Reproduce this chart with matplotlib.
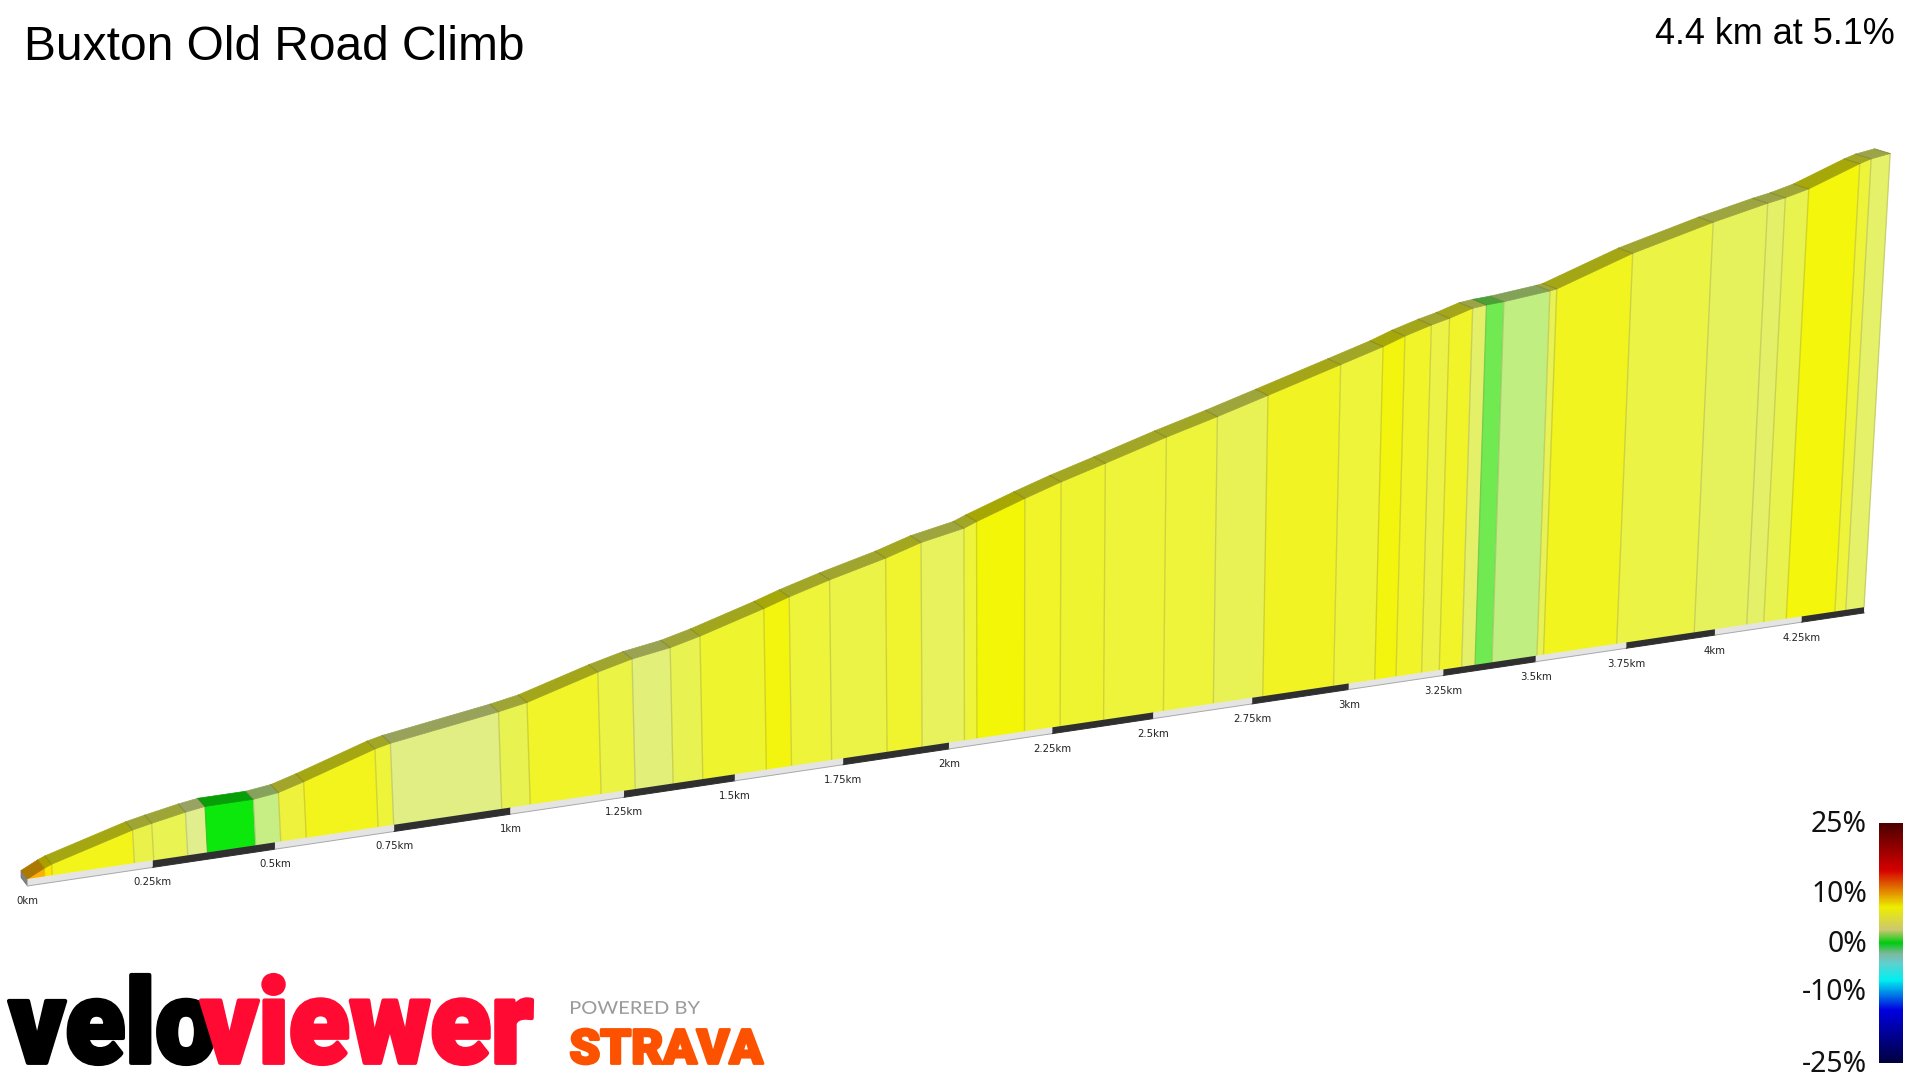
import matplotlib
matplotlib.use('Agg')
import matplotlib.pyplot as plt
import matplotlib.patheffects as pe
from matplotlib.colors import LinearSegmentedColormap, to_rgb
from matplotlib.font_manager import FontProperties
from matplotlib.patches import Polygon
from matplotlib.textpath import TextPath
from matplotlib.transforms import Affine2D
import numpy as np

title = 'Buxton Old Road Climb'
summary = '4.4 km at 5.1%'

# distance along the climb (km) and height gained (m) at each colour change
dist = [0, 0.034, 0.049, 0.213, 0.252, 0.321, 0.361, 0.460, 0.512, 0.565, 0.716, 0.749,
        0.981, 1.043, 1.199, 1.275, 1.360, 1.427, 1.572, 1.630, 1.723, 1.853, 1.936,
        2.037, 2.067, 2.182, 2.269, 2.376, 2.525, 2.651, 2.777, 2.960, 3.068, 3.124,
        3.192, 3.239, 3.299, 3.335, 3.381, 3.503, 3.521, 3.723, 3.941, 4.091, 4.140,
        4.205, 4.347, 4.379, 4.433]
elev = [0, 3.3, 4.5, 13.6, 15.2, 17.8, 19.0, 19.1, 20.4, 23.4, 32.9, 34.4,
        41.4, 43.7, 52.6, 56.3, 59.0, 62.3, 70.7, 74.4, 79.6, 86.1, 91.1,
        95.1, 97.4, 105.2, 110.7, 116.8, 125.5, 132.3, 139.5, 150.1, 156.4, 160.3,
        164.2, 166.5, 170.1, 171.0, 171.7, 174.6, 175.2, 188.7, 200.0, 206.8, 208.7,
        212.0, 222.2, 224.1, 225.9]
seg_colors = ['#ffb000', '#ffe800', '#f3f51a', '#eaf24a', '#e9f352', '#e0ee8e', '#0ce80c', '#c6ee84',
              '#eef23c', '#f2f41c', '#eef43a', '#e0ee84', '#e8f250', '#f0f428', '#ebf345', '#e2ef78',
              '#e8f250', '#eef42e', '#f3f50e', '#eef43a', '#ebf347', '#eff42e', '#e8f25c', '#eef43a',
              '#f4f608', '#f0f428', '#eff430', '#eef43a', '#eef43a', '#e8f255', '#f1f422', '#eef43a',
              '#f3f50e', '#f0f428', '#ecf346', '#f0f428', '#e4f068', '#70ea50', '#c0ee80', '#e8f256',
              '#f1f41f', '#ebf345', '#e6f25c', '#e4f068', '#e9f350', '#f4f60c', '#eef43a', '#e5f168']

tick_km = [0, 0.25, 0.5, 0.75, 1, 1.25, 1.5, 1.75, 2, 2.25, 2.5, 2.75, 3, 3.25, 3.5, 3.75, 4, 4.25]
tick_labels = ['0km', '0.25km', '0.5km', '0.75km', '1km', '1.25km', '1.5km', '1.75km', '2km',
               '2.25km', '2.5km', '2.75km', '3km', '3.25km', '3.5km', '3.75km', '4km', '4.25km']

scale_labels = ['25%', '10%', '0%', '-10%', '-25%']
scale_y = [824, 895, 944, 992, 1064]
scale_stops = [(0.0, '#4d0000'), (0.195, '#d50000'), (0.35, '#eeee00'), (0.445, '#ccc870'),
               (0.5, '#00cc10'), (0.545, '#80b8a0'), (0.585, '#60d0d0'), (0.655, '#00f0f0'),
               (0.78, '#0000e0'), (1.0, '#00003f')]


def project(d, h):
    # simple perspective, the wall leans away from a point below the middle
    d = np.asarray(d, dtype=float)
    h = np.asarray(h, dtype=float)
    x = 27.5 + 507.5 * d / (1 + 0.05075 * d)
    y = 879 - 0.148 * (x - 27.5)
    hp = h * 2.46 / (1 + 0.05075 * d)
    return x + (x - 1000) * hp / 15000, y - hp


def back(x, y, d):
    return x - 6.5 - 2.1 * d, y - 8.5 + 0.85 * d


def darker(c, f=0.68):
    return tuple(v * f for v in to_rgb(c))


class Squeeze(pe.AbstractPathEffect):
    # stretches a text about its anchor so it can match the wide logo lettering
    def __init__(self, x, y, sx, sy, stroke=0):
        super().__init__()
        self.x, self.y, self.sx, self.sy, self.stroke = x, y, sx, sy, stroke

    def draw_path(self, renderer, gc, tpath, affine, rgbFace=None):
        aff = affine + Affine2D().translate(-self.x, -self.y).scale(self.sx, self.sy).translate(self.x, self.y)
        gc0 = renderer.new_gc()
        gc0.copy_properties(gc)
        if self.stroke:
            gc0.set_linewidth(self.stroke)
            gc0.set_foreground(rgbFace)
        else:
            gc0.set_linewidth(0)
        renderer.draw_path(gc0, tpath, aff, rgbFace)
        gc0.restore()


def fit_text(ax, s, x0, y0, x1, y1, color, family, weight='normal', stroke=0):
    # put a text into the box x0..x1, y0 (top)..y1 (baseline)
    fs = 40
    prop = FontProperties(family=family, weight=weight)
    box = TextPath((0, 0), s, size=fs, prop=prop).get_extents()
    k = 100 / 72
    sx = (x1 - x0) / (box.width * k)
    sy = (y1 - y0) / (box.height * k)
    ax_x = x0 - box.x0 * k * sx
    ax_y = y1 + box.y0 * k * sy
    ax.text(ax_x, ax_y, s, fontsize=fs, color=color, family=family, weight=weight, ha='left', va='baseline',
            path_effects=[Squeeze(ax_x, 1080 - ax_y, sx, sy, stroke)], zorder=10)


fig = plt.figure(figsize=(19.2, 10.8), dpi=100)
ax = fig.add_axes([0, 0, 1, 1])
ax.set_xlim(0, 1920)
ax.set_ylim(1080, 0)
ax.axis('off')

d = np.array(dist)
e = np.array(elev)
bx, by = project(d, np.zeros_like(d))
tx, ty = project(d, e)
kx, ky = back(tx, ty, d)

# grey end cap at the start of the climb
thick0 = 7
ax.add_patch(Polygon([(kx[0], ky[0]), (bx[0], by[0]), (bx[0], by[0] + thick0), (kx[0], ky[0] + thick0)],
                     fc='#808080', ec='#707070', lw=0.5))

# walls and the road surface on top of them
for i in range(len(seg_colors)):
    c = seg_colors[i]
    ax.add_patch(Polygon([(bx[i], by[i]), (tx[i], ty[i]), (tx[i + 1], ty[i + 1]), (bx[i + 1], by[i + 1])],
                         fc=c, ec=c, lw=0.6, zorder=2))
    ax.add_patch(Polygon([(tx[i], ty[i]), (kx[i], ky[i]), (kx[i + 1], ky[i + 1]), (tx[i + 1], ty[i + 1])],
                         fc=darker(c), ec=darker(c), lw=0.5, zorder=2))
for i in range(1, len(d)):
    ax.plot([bx[i], tx[i]], [by[i], ty[i]], color=(0.45, 0.45, 0.3, 0.25), lw=1.0, zorder=3,
            solid_capstyle='butt')
    ax.plot([tx[i], kx[i]], [ty[i], ky[i]], color=(0.3, 0.3, 0.1, 0.25), lw=0.8, zorder=3)

# base strip with alternating quarter km blocks
edges = tick_km + [dist[-1]]
for i in range(len(edges) - 1):
    da = np.array([edges[i], edges[i + 1]])
    xa, ya = project(da, np.zeros(2))
    th = 7 / (1 + 0.05075 * da)
    col = '#2f2f2f' if i % 2 else '#e4e4e4'
    ax.add_patch(Polygon([(xa[0], ya[0]), (xa[1], ya[1]), (xa[1], ya[1] + th[1]), (xa[0], ya[0] + th[0])],
                         fc=col, ec='none', zorder=4))
    ax.plot(xa, ya + th, color='#a8a8a8' if i % 2 == 0 else '#2f2f2f', lw=0.7, zorder=4)

lx, ly = project(np.array(tick_km), np.zeros(len(tick_km)))
for x, y, s in zip(lx, ly, tick_labels):
    ax.text(x, y + 21.5, s, fontsize=7.3, color='#222222', family='DejaVu Sans', ha='center', va='center')

ax.text(24, 60, title, fontsize=34.5, family='Liberation Sans', color='black', ha='left', va='baseline')
ax.text(1895, 44, summary, fontsize=25.9, family='Liberation Sans', color='black', ha='right', va='baseline')

# gradient scale
cmap = LinearSegmentedColormap.from_list('grade', scale_stops, N=512)
ax.imshow(np.linspace(0, 1, 480).reshape(-1, 1), cmap=cmap, extent=(1879, 1903, 1063, 823), aspect='auto', zorder=5)
ax.set_xlim(0, 1920)
ax.set_ylim(1080, 0)
for s, y in zip(scale_labels, scale_y):
    ax.text(1867, y, s, fontsize=20.4, family='Noto Sans', color='#111111', ha='right', va='center')

# logos
fit_text(ax, 'velo', 9, 975, 214, 1064, 'black', 'Roboto', 'black', stroke=3)
fit_text(ax, 'viewer', 201, 975, 532, 1064, '#ff0a33', 'Roboto', 'black', stroke=3)
fit_text(ax, 'POWERED BY', 571, 1001, 700, 1014, '#9a9a9a', 'Lato')
fit_text(ax, 'STRAVA', 571, 1029, 763, 1064, '#fc5200', 'Roboto', 'black', stroke=2)

fig.savefig('out.png', dpi=100)
